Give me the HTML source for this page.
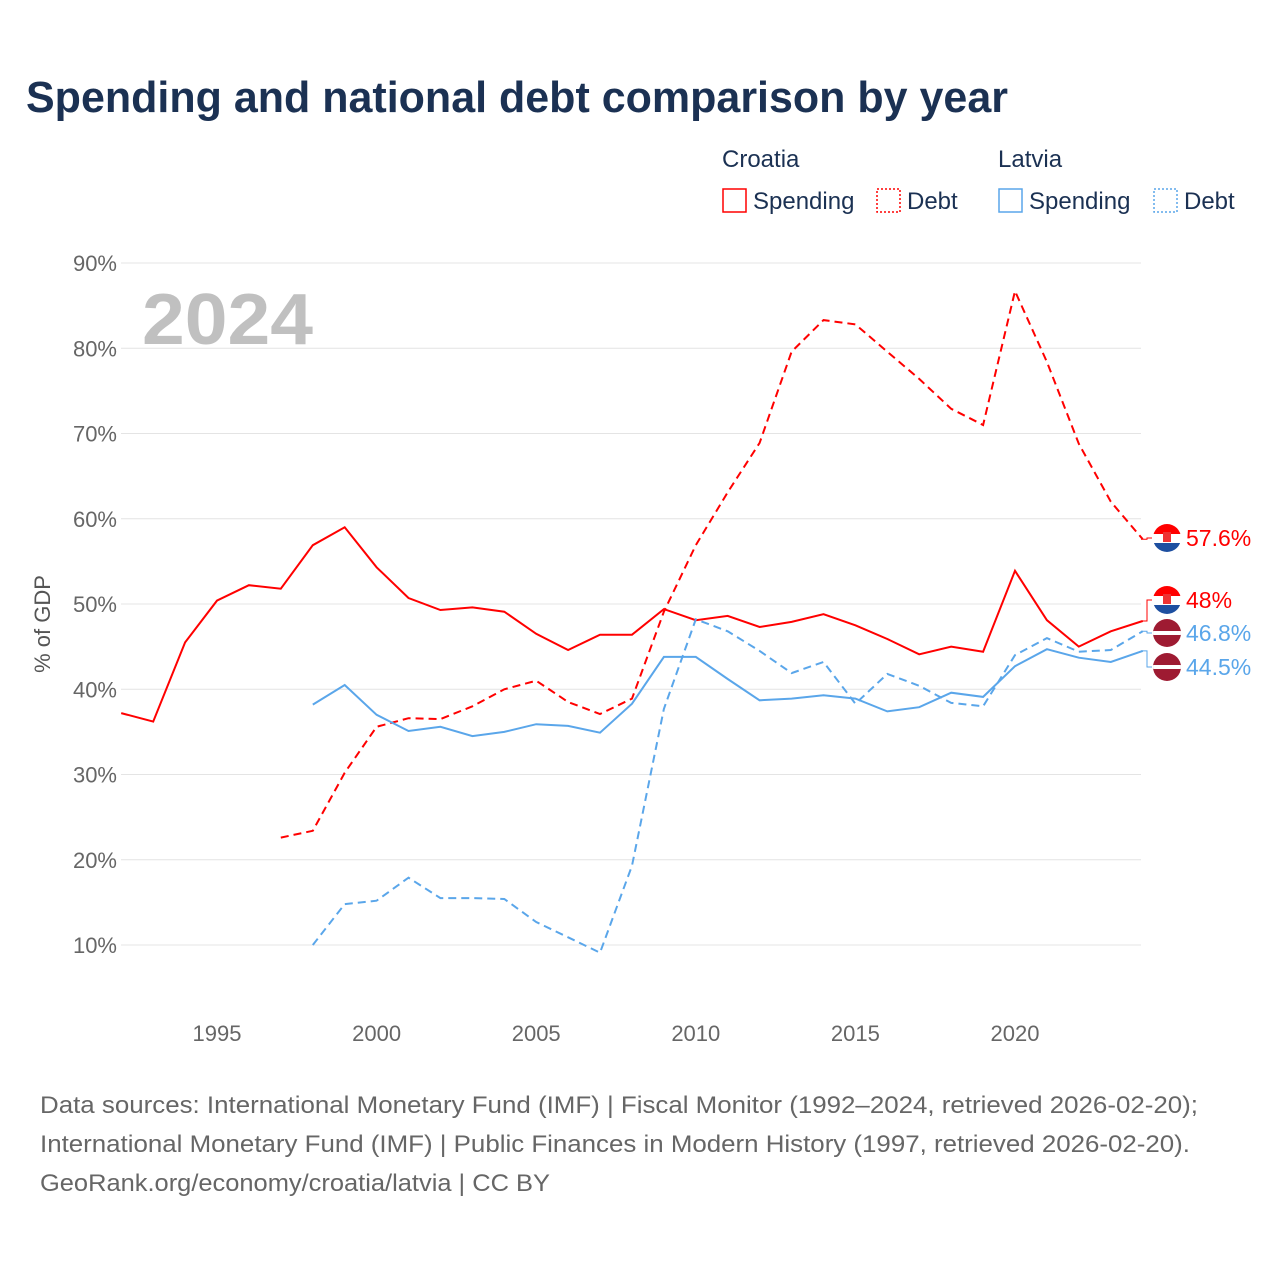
<!DOCTYPE html>
<html><head><meta charset="utf-8">
<style>
body{margin:0;background:#fff;}
svg{display:block;font-family:"Liberation Sans","DejaVu Sans",sans-serif;}
</style></head>
<body>
<svg id="chart" width="1280" height="1280" viewBox="0 0 1280 1280">
<text x="26" y="112" font-size="44" font-weight="bold" fill="#1b3153" textLength="982" lengthAdjust="spacingAndGlyphs">Spending and national debt comparison by year</text>
<g>
<text x="722" y="167" font-size="24" fill="#1b3153">Croatia</text>
<text x="998" y="167" font-size="24" fill="#1b3153">Latvia</text>
<g><rect x="723" y="189" width="23" height="23" fill="none" stroke="#f00" stroke-width="1.5"/><text x="753" y="209" font-size="24" fill="#1b3153">Spending</text></g>
<g><rect x="877" y="189" width="23" height="23" fill="none" stroke="#f00" stroke-width="1.5" stroke-dasharray="2,2"/><text x="907" y="209" font-size="24" fill="#1b3153">Debt</text></g>
<g><rect x="999" y="189" width="23" height="23" fill="none" stroke="#5aa6ea" stroke-width="1.5"/><text x="1029" y="209" font-size="24" fill="#1b3153">Spending</text></g>
<g><rect x="1154" y="189" width="23" height="23" fill="none" stroke="#5aa6ea" stroke-width="1.5" stroke-dasharray="2,2"/><text x="1184" y="209" font-size="24" fill="#1b3153">Debt</text></g>
</g>
<text x="142" y="344" font-size="72" font-weight="bold" fill="#c0c0c0" textLength="171" lengthAdjust="spacingAndGlyphs">2024</text>
<g id="grid"></g><g id="xaxis"></g><g id="series"></g><g id="endlabels"></g>
<text transform="translate(50,624) rotate(-90)" text-anchor="middle" font-size="22" fill="#555">% of GDP</text>
<g font-size="24" fill="#666">
<text x="40" y="1113" textLength="1158" lengthAdjust="spacingAndGlyphs">Data sources: International Monetary Fund (IMF) | Fiscal Monitor (1992–2024, retrieved 2026-02-20);</text>
<text x="40" y="1152" textLength="1150" lengthAdjust="spacingAndGlyphs">International Monetary Fund (IMF) | Public Finances in Modern History (1997, retrieved 2026-02-20).</text>
<text x="40" y="1191" textLength="510" lengthAdjust="spacingAndGlyphs">GeoRank.org/economy/croatia/latvia | CC BY</text>
</g>
</svg>
<script>
const yTicks=[10,20,30,40,50,60,70,80,90];
const xTicks=[1995,2000,2005,2010,2015,2020];
const hrSpendStart=1992;
const hrSpend=[37.2,36.2,45.5,50.4,52.2,51.8,56.9,59.0,54.3,50.7,49.3,49.6,49.1,46.5,44.6,46.4,46.4,49.4,48.1,48.6,47.3,47.9,48.8,47.5,45.9,44.1,45.0,44.4,53.9,48.1,45.0,46.8,48.0];
const hrDebtStart=1997;
const hrDebt=[22.6,23.4,30.2,35.6,36.6,36.5,38.0,40.0,41.0,38.5,37.1,38.9,49.1,56.9,63.1,68.9,79.6,83.3,82.8,79.6,76.4,72.9,71.0,86.7,78.4,68.8,62.0,57.6];
const lvSpendStart=1998;
const lvSpend=[38.2,40.5,37.0,35.1,35.6,34.5,35.0,35.9,35.7,34.9,38.3,43.8,43.8,41.2,38.7,38.9,39.3,38.9,37.4,37.9,39.6,39.1,42.7,44.7,43.7,43.2,44.5];
const lvDebtStart=1998;
const lvDebt=[10.0,14.8,15.2,17.9,15.5,15.5,15.4,12.7,10.9,9.1,19.3,37.7,48.2,46.8,44.5,41.9,43.2,38.3,41.8,40.4,38.4,38.0,44.0,46.0,44.4,44.6,46.8];

const NS="http://www.w3.org/2000/svg";
const X=yr=>217+(yr-1995)*31.92;
const Y=v=>945-(v-10)*8.525;
function mk(tag,attrs,parent){const e=document.createElementNS(NS,tag);for(const k in attrs)e.setAttribute(k,attrs[k]);parent.appendChild(e);return e;}
const grid=document.getElementById('grid');
yTicks.forEach(t=>{
  const l=mk('line',{x1:121,x2:1141,y1:Y(t),y2:Y(t),stroke:'#e4e4e4','stroke-width':1},grid);
  
  
  const tx=mk('text',{x:117,y:Y(t)+8,'text-anchor':'end','font-size':22,fill:'#666'},grid);
  tx.textContent=t+'%';
  
  
});
const xa=document.getElementById('xaxis');
xTicks.forEach(t=>{
  const tx=mk('text',{x:X(t),y:1041,'text-anchor':'middle','font-size':22,fill:'#666'},xa);
  tx.textContent=t;
  
  
});
const S=document.getElementById('series');
function line(start,vals,color,dash,name){
  const d=vals.map((v,i)=>(i?'L':'M')+X(start+i).toFixed(1)+','+Y(v).toFixed(1)).join('');
  const p=mk('path',{d:d,fill:'none',stroke:color,'stroke-width':2,'stroke-dasharray':dash},S);
  
  
}
line(hrSpendStart,hrSpend,'#f00','none','croatia-spending-line');
line(hrDebtStart,hrDebt,'#f00','8,5','croatia-debt-line');
line(lvSpendStart,lvSpend,'#5aa6ea','none','latvia-spending-line');
line(lvDebtStart,lvDebt,'#5aa6ea','8,5','latvia-debt-line');

const E=document.getElementById('endlabels');
function flag(cy,type){
  const g=mk('g',{},E);
  
  
  const cx=1167,r=14;
  const cp=mk('clipPath',{id:'c'+cy},g);
  mk('circle',{cx:cx,cy:cy,r:r},cp);
  const gg=mk('g',{'clip-path':'url(#c'+cy+')'},g);
  if(type==='croatia'){
    mk('rect',{x:cx-r,y:cy-r,width:2*r,height:10,fill:'#f00'},gg);
    mk('rect',{x:cx-r,y:cy-r+10,width:2*r,height:9,fill:'#fff'},gg);
    mk('rect',{x:cx-r,y:cy-r+19,width:2*r,height:9,fill:'#1d4fa0'},gg);
    mk('rect',{x:cx-4,y:cy-6,width:8,height:10,fill:'#e33'},gg);
  } else {
    mk('rect',{x:cx-r,y:cy-r,width:2*r,height:2*r,fill:'#9e1b32'},gg);
    mk('rect',{x:cx-r,y:cy-2,width:2*r,height:4,fill:'#fff'},gg);
  }
}
function endLabel(val,ly,color,type,name,txt){
  const y0=Y(val);
  const p=mk('path',{d:`M1141,${y0}H1147V${ly}H1152`,fill:'none',stroke:color,'stroke-width':1},E);
  
  
  flag(ly,type);
  const t=mk('text',{x:1186,y:ly+8,'font-size':23,fill:color},E);
  t.textContent=txt;
  
  
}
endLabel(hrDebt[hrDebt.length-1],538,'#f00','croatia','croatia-debt-end-label',hrDebt[hrDebt.length-1]+'%');
endLabel(hrSpend[hrSpend.length-1],600,'#f00','croatia','croatia-spending-end-label',Math.round(hrSpend[hrSpend.length-1]*10)/10+'%');
endLabel(lvDebt[lvDebt.length-1],633,'#5aa6ea','latvia','latvia-debt-end-label',lvDebt[lvDebt.length-1]+'%');
endLabel(lvSpend[lvSpend.length-1],667,'#5aa6ea','latvia','latvia-spending-end-label',lvSpend[lvSpend.length-1]+'%');
</script>
</body></html>
